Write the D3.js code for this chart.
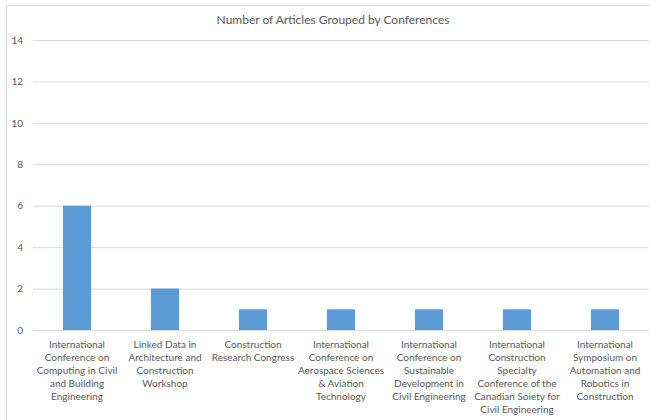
<!DOCTYPE html>
<html>
<head>
<meta charset="utf-8">
<script src="https://cdn.jsdelivr.net/npm/d3@7"></script>
<style>
  body { margin: 0; background: #fff; }
  text { font-family: Lato, "Open Sans", sans-serif; fill: #595959; }
</style>
</head>
<body>
<svg id="chart" width="650" height="420"></svg>
<script>
// data
var conferences = [
  "International Conference on Computing in Civil and Building Engineering",
  "Linked Data in Architecture and Construction Workshop",
  "Construction Research Congress",
  "International Conference on Aerospace Sciences & Aviation Technology",
  "International Conference on Sustainable Development in Civil Engineering",
  "International Construction Specialty Conference of the Canadian Soiety for Civil Engineering",
  "International Symposium on Automation and Robotics in Construction"
]
var articleCounts = [6, 2, 1, 1, 1, 1, 1]
var yTicks = [0, 2, 4, 6, 8, 10, 12, 14]
// how the labels wrap in the picture
var labelLines = [
  ["International", "Conference on", "Computing in Civil", "and Building", "Engineering"],
  ["Linked Data in", "Architecture and", "Construction", "Workshop"],
  ["Construction", "Research Congress"],
  ["International", "Conference on", "Aerospace Sciences", "& Aviation", "Technology"],
  ["International", "Conference on", "Sustainable", "Development in", "Civil Engineering"],
  ["International", "Construction", "Specialty", "Conference of the", "Canadian Soiety for", "Civil Engineering"],
  ["International", "Symposium on", "Automation and", "Robotics in", "Construction"]
]

var svg = d3.select("#chart")
var plotLeft = 33, plotRight = 649, plotTop = 40, plotBottom = 330

// chart frame (left and top edges visible, rest cropped)
svg.append("line").attr("x1", 6.5).attr("x2", 6.5).attr("y1", 5.5).attr("y2", 420).attr("stroke", "#d9d9d9")
svg.append("line").attr("x1", 6.5).attr("x2", 650).attr("y1", 5.5).attr("y2", 5.5).attr("stroke", "#d9d9d9")

var x = d3.scaleBand().domain(conferences).range([plotLeft, plotRight]).paddingInner(0.68).paddingOuter(0.34)
var y = d3.scaleLinear().domain([0, 14]).range([plotBottom, plotTop])

svg.append("text").attr("x", 333).attr("y", 24).attr("text-anchor", "middle")
  .style("font-size", "12px").text("Number of Articles Grouped by Conferences")

var yAxis = d3.axisLeft(y).tickValues(yTicks).tickSize(-(plotRight - plotLeft)).tickPadding(10)
var gy = svg.append("g").attr("transform", "translate(" + plotLeft + ",0)").call(yAxis)
gy.select(".domain").remove()
gy.selectAll(".tick line").attr("stroke", "#d9d9d9")
gy.selectAll(".tick text").style("font-family", "Lato, sans-serif").style("font-size", "10px").attr("fill", "#595959")

svg.selectAll("rect.bar").data(conferences).enter().append("rect")
  .attr("class", "bar")
  .attr("x", function(d) { return x(d) })
  .attr("width", x.bandwidth())
  .attr("y", function(d, i) { return y(articleCounts[i]) })
  .attr("height", function(d, i) { return y(0) - y(articleCounts[i]) })
  .attr("fill", "#5b9bd5")

// x axis line
svg.append("line").attr("x1", plotLeft).attr("x2", plotRight).attr("y1", y(0) + 0.5).attr("y2", y(0) + 0.5).attr("stroke", "#d9d9d9")

var labels = svg.selectAll("text.cat").data(conferences).enter().append("text")
  .attr("class", "cat")
  .attr("text-anchor", "middle")
  .style("font-size", "10px")
labels.each(function(d, i) {
  var cx = x(d) + x.bandwidth() / 2
  d3.select(this).selectAll("tspan").data(labelLines[i]).enter().append("tspan")
    .attr("x", cx)
    .attr("y", function(t, j) { return 348 + j * 13 })
    .text(function(t) { return t })
})
</script>
</body>
</html>
